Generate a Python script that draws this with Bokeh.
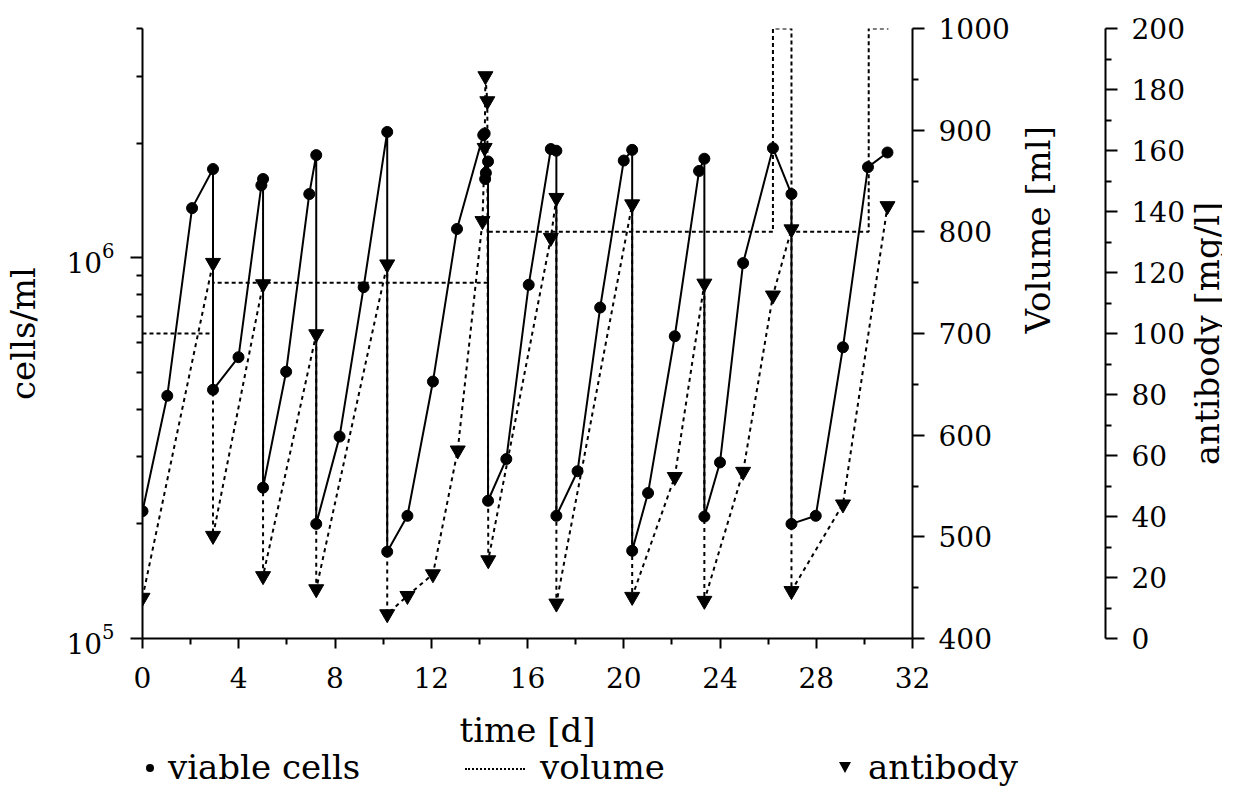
import math
from bokeh.plotting import figure
from bokeh.layouts import row, column
from bokeh.models import (Range1d, LinearScale, LinearAxis, FixedTicker,
                          LogTickFormatter, Div)
from bokeh.embed import file_html
from bokeh.resources import INLINE

FONT = "DejaVu Serif"

# ---------------- data ----------------
cells_day = [0.0, 1.03, 2.06, 2.93, 2.93, 3.99, 4.94, 5.01, 5.01, 5.97, 6.93,
             7.22, 7.22, 8.19, 9.19, 10.17, 10.17, 11.01, 12.07, 13.07, 14.16,
             14.22, 14.24, 14.27, 14.36, 14.36, 15.12, 16.05, 16.97, 17.2, 17.2,
             18.08, 19.02, 20.0, 20.35, 20.35, 21.01, 22.12, 23.13, 23.35, 23.35,
             24.0, 24.96, 26.2, 26.97, 26.97, 27.98, 29.11, 30.15, 30.96]
cells = [2.16e5, 4.34e5, 1.35e6, 1.71e6, 4.5e5, 5.48e5, 1.55e6, 1.61e6, 2.49e5,
         5.02e5, 1.47e6, 1.86e6, 2.0e5, 3.39e5, 8.37e5, 2.14e6, 1.69e5, 2.1e5,
         4.73e5, 1.19e6, 2.10e6, 2.12e6, 1.61e6, 1.67e6, 1.79e6, 2.30e5, 2.96e5,
         8.49e5, 1.93e6, 1.91e6, 2.1e5, 2.75e5, 7.4e5, 1.80e6, 1.92e6, 1.70e5,
         2.41e5, 6.22e5, 1.69e6, 1.82e6, 2.09e5, 2.90e5, 9.68e5, 1.94e6, 1.47e6,
         2.0e5, 2.10e5, 5.82e5, 1.73e6, 1.89e6]

ab_day = [0.0, 2.93, 2.93, 5.01, 5.01, 7.22, 7.22, 10.17, 10.17, 11.01, 12.07,
          13.1, 14.13, 14.22, 14.25, 14.33, 14.37, 16.97, 17.2, 17.2, 20.35,
          20.35, 22.12, 23.35, 23.35, 24.96, 26.2, 26.97, 26.97, 29.11, 30.96]
antibody = [13.4, 123.2, 33.7, 116.2, 20.5, 99.8, 16.2, 122.7, 8.0, 14.0, 21.1,
            61.7, 136.9, 160.9, 184.4, 176.2, 25.7, 131.4, 144.5, 11.5, 142.4,
            13.7, 53.0, 116.4, 12.4, 54.7, 112.5, 134.2, 15.6, 44.0, 141.8]

vol_day = [0.0, 2.93, 2.93, 14.36, 14.36, 26.2, 26.2, 26.97, 26.97, 30.18, 30.18, 31.0]
volume = [700, 700, 750, 750, 800, 800, 1000, 1000, 800, 800, 1000, 1000]

x_ticks = [0, 4, 8, 12, 16, 20, 24, 28, 32]
x_minor = [2, 6, 10, 14, 18, 22, 26, 30]
y_ticks = [1e5, 1e6]
y_minor = [2e5, 3e5, 4e5, 5e5, 6e5, 7e5, 8e5, 9e5, 2e6, 3e6, 4e6]
vol_ticks = [400, 500, 600, 700, 800, 900, 1000]
vol_minor = [450, 550, 650, 750, 850, 950]
ab_ticks = [0, 20, 40, 60, 80, 100, 120, 140, 160, 180, 200]
ab_minor = [10, 30, 50, 70, 90, 110, 130, 150, 170, 190]

legend_labels = ["viable cells", "volume", "antibody"]

TICK_SIZE = "28px"
TITLE_SIZE = "34px"
P_WIDTH = 1209
P_HEIGHT = 753
TOP = 28
BOTTOM = 115
TW = 120                     # transparent strip that carries the antibody title
OVERLAP = P_WIDTH + TW - 1222

# ---------------- main figure ----------------
p = figure(width=P_WIDTH, height=P_HEIGHT, y_axis_type="log",
           x_range=Range1d(0, 32), y_range=Range1d(1e5, 4e6),
           output_backend="svg", toolbar_location=None,
           min_border_left=134, min_border_right=P_WIDTH - 134 - 778,
           min_border_top=TOP, min_border_bottom=BOTTOM)
p.grid.visible = False
p.outline_line_color = None

p.extra_y_ranges = {"vol": Range1d(400, 1000), "ab": Range1d(0, 200)}
p.extra_y_scales = {"vol": LinearScale(), "ab": LinearScale()}


def style(ax, tick_out=12, minor_out=6):
    ax.axis_line_color = "black"
    ax.axis_line_width = 2
    ax.major_tick_line_color = "black"
    ax.minor_tick_line_color = "black"
    ax.major_tick_line_width = 2
    ax.minor_tick_line_width = 2
    ax.major_tick_in = 0
    ax.minor_tick_in = 0
    ax.major_tick_out = tick_out
    ax.minor_tick_out = minor_out
    ax.major_label_text_font = FONT
    ax.major_label_text_font_size = TICK_SIZE
    ax.major_label_text_color = "black"
    ax.axis_label_text_font = FONT
    ax.axis_label_text_font_size = TITLE_SIZE
    ax.axis_label_text_font_style = "normal"
    ax.axis_label_text_color = "black"


xa = p.xaxis[0]
style(xa, 10, 6)
xa.ticker = FixedTicker(ticks=x_ticks, minor_ticks=x_minor)
xa.axis_label = "time [d]"
xa.major_label_standoff = 18
xa.axis_label_standoff = 19

ya = p.yaxis[0]
style(ya, 12, 6)
ya.ticker = FixedTicker(ticks=y_ticks, minor_ticks=y_minor)
ya.formatter = LogTickFormatter()
ya.axis_label = "cells/ml"
ya.major_label_standoff = 16
ya.axis_label_standoff = 20

vax = LinearAxis(y_range_name="vol",
                 ticker=FixedTicker(ticks=vol_ticks, minor_ticks=vol_minor),
                 axis_label="Volume [ml]")
style(vax, 12, 6)
vax.major_label_standoff = 14
vax.axis_label_standoff = 25
vax.axis_label_orientation = math.pi / 2

spacer = LinearAxis(y_range_name="vol", ticker=FixedTicker(ticks=[]),
                    axis_label=" ")
spacer.axis_line_color = None
spacer.major_tick_line_color = None
spacer.minor_tick_line_color = None
spacer.major_tick_out = 0
spacer.minor_tick_out = 0
spacer.major_label_standoff = 0
spacer.axis_label_standoff = 21
spacer.axis_label_text_font_size = "1px"

aax = LinearAxis(y_range_name="ab",
                 ticker=FixedTicker(ticks=ab_ticks, minor_ticks=ab_minor))
style(aax, 12, 6)
aax.major_label_standoff = 14

p.add_layout(vax, "right")
p.add_layout(spacer, "right")
p.add_layout(aax, "right")

# ---------------- glyphs ----------------
p.line(vol_day, volume, y_range_name="vol", line_color="black",
       line_width=2, line_dash="4 3")
p.line(ab_day, antibody, y_range_name="ab", line_color="black",
       line_width=2, line_dash="4 4")
p.scatter(ab_day, antibody, y_range_name="ab", marker="inverted_triangle",
          size=15, color="black")
p.line(cells_day, cells, line_color="black", line_width=2)
p.scatter(cells_day, cells, marker="circle", size=11, color="black")

# ---------------- transparent strip carrying the antibody axis title ----------------
tf = figure(width=TW, height=P_HEIGHT, x_range=Range1d(0, 1),
            y_range=Range1d(0, 200), output_backend="svg",
            toolbar_location=None, x_axis_location=None,
            min_border_left=TW - 1, min_border_right=0,
            min_border_top=TOP, min_border_bottom=BOTTOM,
            margin=(0, 0, 0, -OVERLAP))
tf.grid.visible = False
tf.outline_line_color = None
tf.border_fill_color = None
tf.background_fill_color = None
ta = tf.yaxis[0]
ta.ticker = FixedTicker(ticks=[])
ta.axis_line_color = None
ta.major_tick_line_color = None
ta.minor_tick_line_color = None
ta.major_tick_out = 0
ta.minor_tick_out = 0
ta.major_label_standoff = 0
ta.axis_label = "antibody [mg/l]"
ta.axis_label_standoff = -5
ta.axis_label_text_font = FONT
ta.axis_label_text_font_size = TITLE_SIZE
ta.axis_label_text_font_style = "normal"
ta.axis_label_text_color = "black"

# ---------------- legend row ----------------
legend_html = (
    '<div style="position:relative;width:1222px;height:40px;'
    "font-family:'DejaVu Serif';font-size:34px;line-height:40px;color:#000;\">"
    '<span style="position:absolute;left:146px;top:11px;width:8px;height:8px;'
    'border-radius:50%;background:#000;"></span>'
    f'<span style="position:absolute;left:168px;top:-6px;white-space:nowrap;">{legend_labels[0]}</span>'
    '<span style="position:absolute;left:465px;top:15px;width:60px;height:0;'
    'border-top:2px dotted #000;"></span>'
    f'<span style="position:absolute;left:540px;top:-6px;white-space:nowrap;">{legend_labels[1]}</span>'
    '<span style="position:absolute;left:839px;top:9px;width:0;height:0;'
    'border-left:6px solid transparent;border-right:6px solid transparent;'
    'border-top:11px solid #000;"></span>'
    f'<span style="position:absolute;left:868px;top:-6px;white-space:nowrap;">{legend_labels[2]}</span>'
    '</div>'
)
leg = Div(text=legend_html, width=1222, height=40, margin=(0, 0, 0, 0))

layout = column(row(p, tf, spacing=0), leg, spacing=0)
open("out.html", "w").write(file_html(layout, INLINE))
